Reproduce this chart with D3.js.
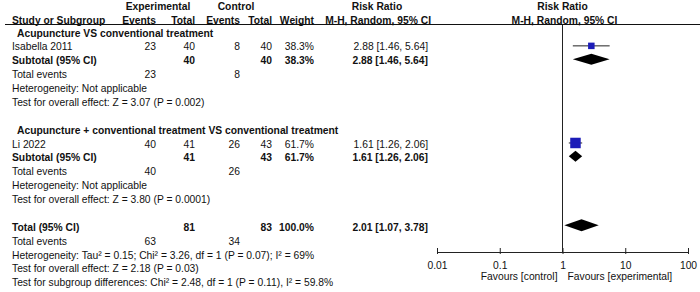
<!DOCTYPE html>
<html>
<head>
<meta charset="utf-8">
<script src="https://cdn.jsdelivr.net/npm/d3@7"></script>
<style>
  body { margin: 0; background: #fff; }
  svg text { font-family: "Liberation Sans", Arial, sans-serif; font-size: 10.3px; fill: #111; }
  .b { font-weight: bold; }
</style>
</head>
<body>
<div id="chart"></div>
<script>
// Forest plot - Risk Ratio, M-H random

// studies
const studyNames = ['Isabella 2011', 'Li 2022'];
const expEvents = [23, 40];
const expTotals = [40, 41];
const ctlEvents = [8, 26];
const ctlTotals = [40, 43];
const weights = [38.3, 61.7];
const rr = [2.88, 1.61];
const ciLow = [1.46, 1.26];
const ciHigh = [5.64, 2.06];

// subgroups
const subgroupNames = [
    'Acupuncture VS conventional treatment',
    'Acupuncture + conventional treatment VS conventional treatment'
];
const subExpTotals = [40, 41];
const subCtlTotals = [40, 43];
const subWeights = [38.3, 61.7];
const subRR = [2.88, 1.61];
const subLow = [1.46, 1.26];
const subHigh = [5.64, 2.06];
const subExpEvents = [23, 40];
const subCtlEvents = [8, 26];
const subHet = ['Heterogeneity: Not applicable', 'Heterogeneity: Not applicable'];
const subTest = ['Test for overall effect: Z = 3.07 (P = 0.002)', 'Test for overall effect: Z = 3.80 (P = 0.0001)'];

// overall
const totalExp = 81, totalCtl = 83, totalWeight = 100.0;
const totalExpEvents = 63, totalCtlEvents = 34;
const totalRR = 2.01, totalLow = 1.07, totalHigh = 3.78;
const totalNotes = [
    'Heterogeneity: Tau\u00b2 = 0.15; Chi\u00b2 = 3.26, df = 1 (P = 0.07); I\u00b2 = 69%',
    'Test for overall effect: Z = 2.18 (P = 0.03)',
    'Test for subgroup differences: Chi\u00b2 = 2.48, df = 1 (P = 0.11), I\u00b2 = 59.8%'
];

// axis
const axisTicks = [0.01, 0.1, 1, 10, 100];
const tickLabels = ['0.01', '0.1', '1', '10', '100'];

const width = 700, height = 292;

// column anchors (right edges)
const col = { name: 12, head: 17, expE: 156, expN: 195, ctlE: 240, ctlN: 272, w: 314, ci: 428 };

const svg = d3.select('#chart').append('svg')
    .attr('width', width)
    .attr('height', height);

const x = d3.scaleLog().domain([0.01, 100]).range([437, 688]);
const row = d3.scaleLinear().domain([0, 18]).range([33, 282.7]);
const boxSize = d3.scaleLinear().domain([0, 100]).range([0, 17]);
const f2 = d3.format('.2f');
const pct = d => d3.format('.1f')(d) + '%';
const ciText = (m, l, h) => `${f2(m)} [${f2(l)}, ${f2(h)}]`;

function txt(xp, yp, s, anchor, bold) {
    svg.append('text')
        .attr('x', xp)
        .attr('y', yp)
        .attr('dy', '0.35em')
        .attr('text-anchor', anchor || 'start')
        .attr('class', bold ? 'b' : null)
        .text(s);
}

// headers
txt(158, 6, 'Experimental', 'middle', true);
txt(236, 6, 'Control', 'middle', true);
txt(377, 6, 'Risk Ratio', 'middle', true);
txt(x(1), 6, 'Risk Ratio', 'middle', true);
txt(col.name, 20, 'Study or Subgroup', 'start', true);
txt(col.expE, 20, 'Events', 'end', true);
txt(col.expN, 20, 'Total', 'end', true);
txt(col.ctlE, 20, 'Events', 'end', true);
txt(col.ctlN, 20, 'Total', 'end', true);
txt(col.w, 20, 'Weight', 'end', true);
txt(431, 20, 'M-H, Random, 95% CI', 'end', true);
txt(x(1) + 2, 20, 'M-H, Random, 95% CI', 'middle', true);

svg.append('line')
    .attr('x1', 5).attr('x2', width)
    .attr('y1', 24.5).attr('y2', 24.5)
    .attr('stroke', '#111');

// null line
svg.append('line')
    .attr('x1', x(1)).attr('x2', x(1))
    .attr('y1', 24.5).attr('y2', 252)
    .attr('stroke', '#222');

function diamond(m, l, h, yc, half) {
    const pts = [[x(l), yc], [x(m), yc - half], [x(h), yc], [x(m), yc + half]];
    svg.append('polygon')
        .attr('points', pts.map(p => p.join(',')).join(' '))
        .attr('fill', '#000');
}

// subgroups
subgroupNames.forEach((g, i) => {
    const base = i * 7;
    txt(col.head, row(base), g, 'start', true);

    // study row
    const ys = row(base + 1);
    txt(col.name, ys, studyNames[i]);
    txt(col.expE, ys, expEvents[i], 'end');
    txt(col.expN, ys, expTotals[i], 'end');
    txt(col.ctlE, ys, ctlEvents[i], 'end');
    txt(col.ctlN, ys, ctlTotals[i], 'end');
    txt(col.w, ys, pct(weights[i]), 'end');
    txt(col.ci, ys, ciText(rr[i], ciLow[i], ciHigh[i]), 'end');

    svg.append('line')
        .attr('x1', x(ciLow[i])).attr('x2', x(ciHigh[i]))
        .attr('y1', ys - 1).attr('y2', ys - 1)
        .attr('stroke', '#222');
    const s = boxSize(weights[i]);
    svg.append('rect')
        .attr('x', x(rr[i]) - s / 2)
        .attr('y', ys - 1 - s / 2)
        .attr('width', s).attr('height', s)
        .attr('fill', '#1c1cb8');

    // subtotal row
    const yt = row(base + 2);
    txt(col.name, yt, 'Subtotal (95% CI)', 'start', true);
    txt(col.expN, yt, subExpTotals[i], 'end', true);
    txt(col.ctlN, yt, subCtlTotals[i], 'end', true);
    txt(col.w, yt, pct(subWeights[i]), 'end', true);
    txt(col.ci, yt, ciText(subRR[i], subLow[i], subHigh[i]), 'end', true);
    diamond(subRR[i], subLow[i], subHigh[i], yt - 1.5, 5.5);

    const ye = row(base + 3);
    txt(col.name, ye, 'Total events');
    txt(col.expE, ye, subExpEvents[i], 'end');
    txt(col.ctlE, ye, subCtlEvents[i], 'end');

    txt(col.name, row(base + 4), subHet[i]);
    txt(col.name, row(base + 5), subTest[i]);
});

// overall
const yT = row(14);
txt(col.name, yT, 'Total (95% CI)', 'start', true);
txt(col.expN, yT, totalExp, 'end', true);
txt(col.ctlN, yT, totalCtl, 'end', true);
txt(col.w, yT, pct(totalWeight), 'end', true);
txt(col.ci, yT, ciText(totalRR, totalLow, totalHigh), 'end', true);
diamond(totalRR, totalLow, totalHigh, yT - 2, 6);

const yE = row(15);
txt(col.name, yE, 'Total events');
txt(col.expE, yE, totalExpEvents, 'end');
txt(col.ctlE, yE, totalCtlEvents, 'end');
totalNotes.forEach((n, i) => txt(col.name, row(16 + i), n));

// axis
const axisY = 252;
const axis = d3.axisBottom(x)
    .tickValues(axisTicks)
    .tickFormat((d, i) => tickLabels[i])
    .tickSizeOuter(0)
    .tickSizeInner(4)
    .tickPadding(6);

const ag = svg.append('g')
    .attr('transform', `translate(0,${axisY})`)
    .call(axis);
ag.select('.domain').attr('stroke', '#222');
ag.selectAll('.tick line').attr('y1', -4).attr('y2', 2).attr('stroke', '#222');
ag.selectAll('.tick text')
    .attr('fill', '#111')
    .style('font-family', '"Liberation Sans", Arial, sans-serif')
    .style('font-size', '10.3px');

txt(x(1) - 5, 276, 'Favours [control]', 'end');
txt(x(1) + 5, 276, 'Favours [experimental]', 'start');
</script>
</body>
</html>
